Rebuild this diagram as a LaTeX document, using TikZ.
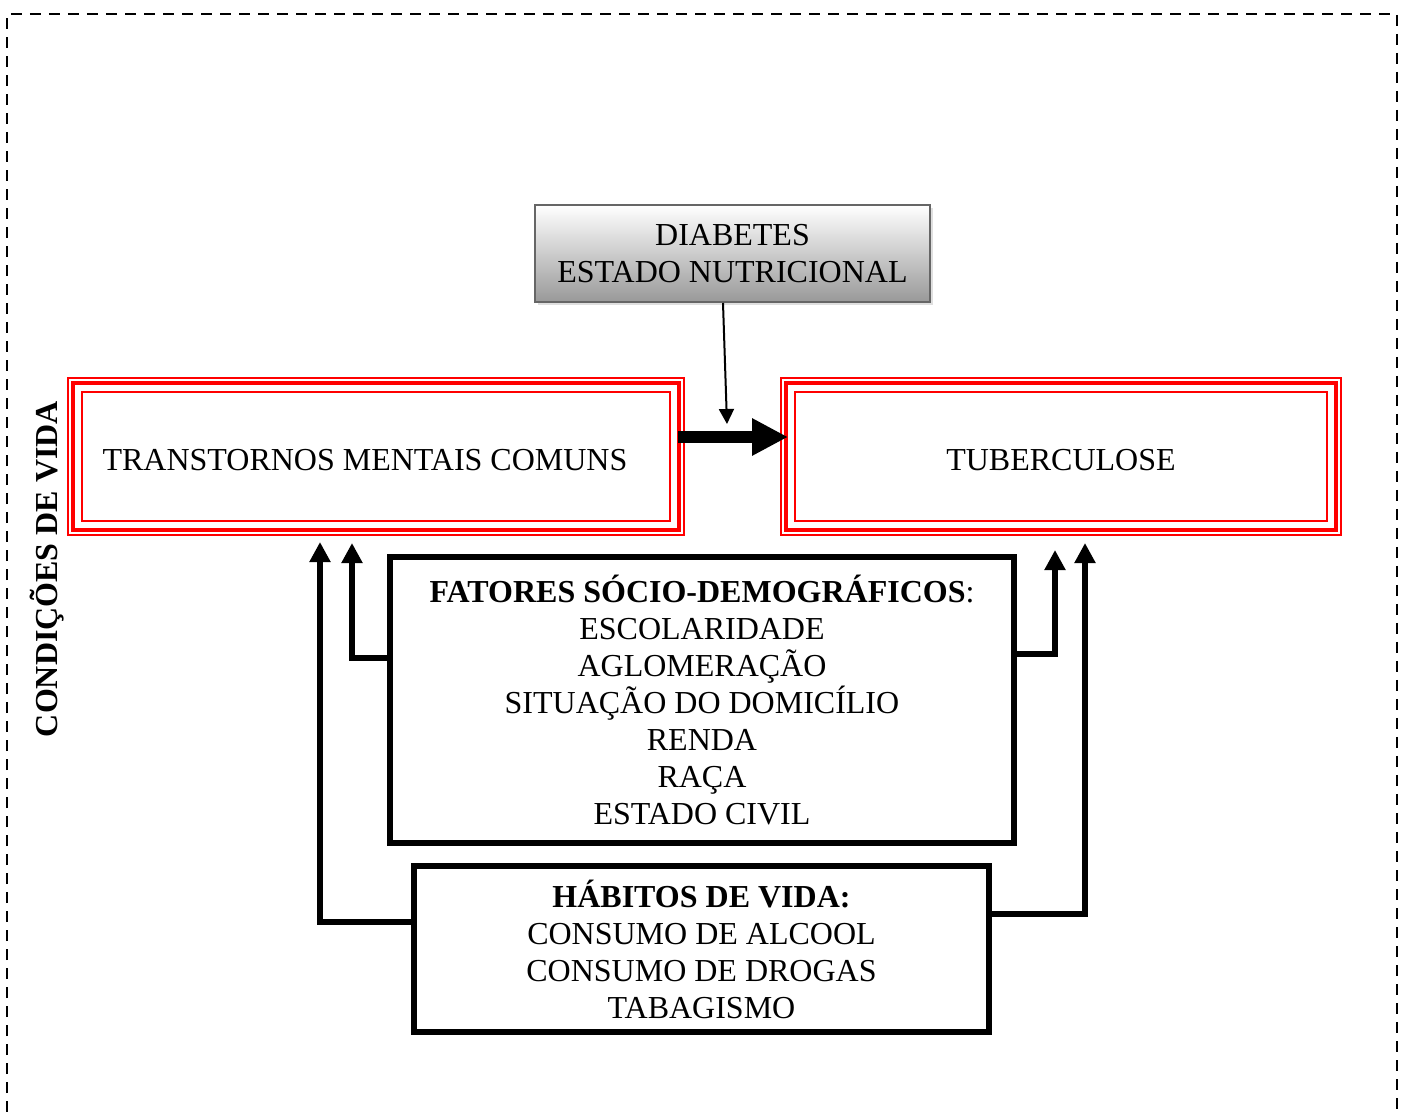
\documentclass[tikz,border=0pt]{standalone}
\usepackage{fontspec}
\setmainfont{Liberation Serif}
\usetikzlibrary{arrows.meta,shadows}

\begin{document}
\begin{tikzpicture}[x=0.5pt,y=-0.5pt]
	\useasboundingbox (0,0) rectangle (1403,1112);
	\fontsize{16}{18.5}\selectfont
	\tikzstyle{frame}=[rectangle, draw=red, line width=1pt, inner sep=0pt, outer sep=0pt, minimum height=78.5pt]
	\tikzstyle{factor}=[rectangle, draw=black, line width=3pt, align=center, inner sep=0pt]
	\tikzstyle{link}=[line width=3pt, -{Triangle[length=10pt,width=10pt]}]
	% dashed border, open at the bottom
	\draw[line width=1.4pt, dash pattern=on 5.5pt off 4pt] (7,1112) -- (7,14) -- (1397,14) -- (1397,1112);
	\node[rotate=90, font=\bfseries] (cv) at (47,569) {CONDIÇÕES DE VIDA};
	\node[frame, minimum width=308pt] (tmc) at (376,456.5) {\raisebox{-2pt}[\height][\depth]{TRANSTORNOS MENTAIS COMUNS}\hspace*{11pt}};
	\node[frame, minimum width=280pt] (tb) at (1061,456.5) {\raisebox{-2pt}[\height][\depth]{TUBERCULOSE}};
	\foreach \b in {tmc,tb} {
	    \draw[red, line width=2pt] ([shift={(5,5)}]\b.north west) rectangle ([shift={(-5,-5)}]\b.south east);
	    \draw[red, line width=1pt] ([shift={(14,14)}]\b.north west) rectangle ([shift={(-14,-14)}]\b.south east);
	}
	\node[draw=black!60, line width=1pt, top color=white, bottom color=black!40,
	    drop shadow={shadow xshift=1.5pt, shadow yshift=-1.5pt, fill=black!25},
	    minimum width=197.5pt, minimum height=48.5pt, align=center, inner sep=0pt] (diab) at (732.5,253.5) {DIABETES\\ESTADO NUTRICIONAL};
	\node[factor, minimum width=312pt, minimum height=143pt] (fat) at (702,700) {\textbf{FATORES SÓCIO-DEMOGRÁFICOS}:\\ESCOLARIDADE\\AGLOMERAÇÃO\\SITUAÇÃO DO DOMICÍLIO\\RENDA\\RAÇA\\ESTADO CIVIL};
	\node[factor, minimum width=287.5pt, minimum height=83pt] (hab) at (701.5,949) {\textbf{HÁBITOS DE VIDA:}\\CONSUMO DE ALCOOL\\CONSUMO DE DROGAS\\TABAGISMO};
	% main effect
	\draw[line width=6pt, -{Triangle[length=18pt,width=17.5pt]}] ([xshift=-3pt,yshift=9.75pt]tmc.east) -- ([xshift=3.5pt,yshift=9.75pt]tb.west);
	\coordinate (hit) at (727,424);
	\draw[line width=1pt, -{Triangle[length=7.5pt,width=7.5pt]}] ([xshift=-4.75pt]diab.south) -- (hit);
	% factors to both boxes
	\coordinate (tmc1) at (320,542);
	\coordinate (tmc2) at (352,543);
	\coordinate (tb1) at (1055,550);
	\coordinate (tb2) at (1085,543);
	\draw[link] ([yshift=21pt]fat.west) -| (tmc2);
	\draw[link] ([yshift=13.5pt]hab.west) -| (tmc1);
	\draw[link] ([yshift=23pt]fat.east) -| (tb1);
	\draw[link] ([yshift=17.5pt]hab.east) -| (tb2);
\end{tikzpicture}
\end{document}
